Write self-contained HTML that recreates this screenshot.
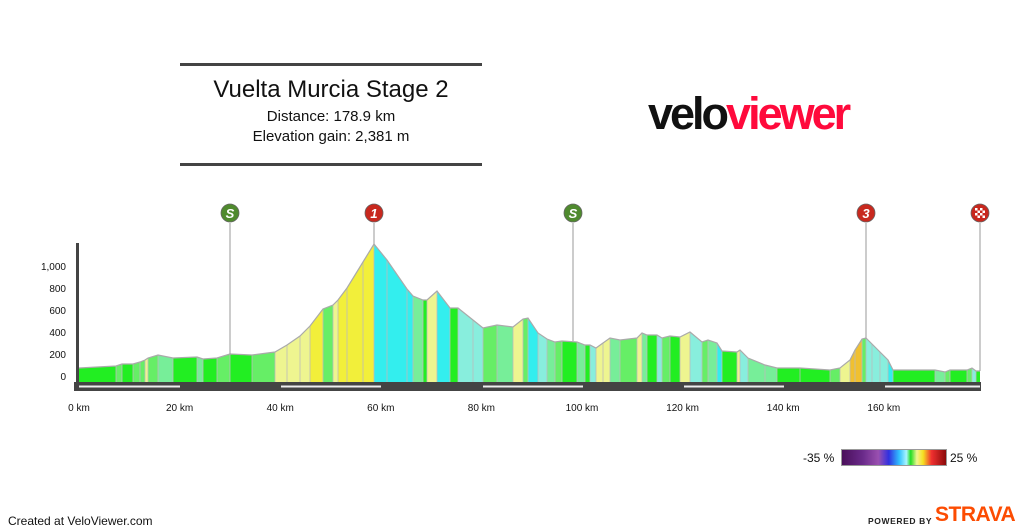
<!DOCTYPE html>
<html><head><meta charset="utf-8"><style>
body{margin:0;width:1024px;height:531px;background:#fff;font-family:"Liberation Sans",sans-serif;overflow:hidden;position:relative}
.t{position:absolute;white-space:nowrap}
</style></head><body>
<div class="t" style="left:180px;top:63px;width:302px;height:3px;background:#444"></div>
<div class="t" style="left:180px;top:163px;width:302px;height:3px;background:#444"></div>
<div class="t" style="left:180px;width:302px;top:76px;text-align:center;font-size:24px;color:#111">Vuelta Murcia Stage 2</div>
<div class="t" style="left:180px;width:302px;top:108px;text-align:center;font-size:15px;color:#111">Distance: 178.9 km</div>
<div class="t" style="left:180px;width:302px;top:128px;text-align:center;font-size:15px;color:#111">Elevation gain: 2,381 m</div>
<div class="t" style="left:648px;top:90px;font-size:45px;font-weight:bold;letter-spacing:-3px;line-height:48px"><span style="color:#111">velo</span><span style="color:#ff0a3c">viewer</span></div>
<svg id="s" width="1024" height="531" style="position:absolute;left:0;top:0"></svg>
<div class="t" style="left:803px;top:451px;font-size:12px;color:#111">-35 %</div>
<div class="t" style="left:841px;top:449px;width:104px;height:15px;border:1px solid #999;background:linear-gradient(90deg,#4a0f5a,#6a2a8a 20%,#9a50b0 35%,#3030e0 45%,#30c0ff 55%,#aaf5ff 62%,#22dd22 66%,#f0f590 72%,#f5e020 78%,#f03030 86%,#8a0a0a)"></div>
<div class="t" style="left:950px;top:451px;font-size:12px;color:#111">25 %</div>
<div class="t" style="left:8px;top:514px;font-size:12px;color:#111">Created at VeloViewer.com</div>
<div class="t" style="left:868px;top:516px;font-size:8.5px;font-weight:bold;letter-spacing:0.6px;color:#222">POWERED BY</div>
<div class="t" style="left:935px;top:503px;font-size:21px;font-weight:bold;color:#fc4c02;letter-spacing:-0.5px">STRAVA</div>
<script>
var P=[[79,368],[116,366],[122,364],[133,364],[140,362],[145,360],[148,358],[158,355],[173,358],[197,357],[203,359],[217,358],[230,354],[252,355],[275,352],[287,345],[300,336],[310,326],[323,309],[333,305],[338,300],[347,288],[363,262],[374,244],[387,260],[407,289],[413,296],[423,300],[427,300],[437,291],[450,308],[458,308],[473,320],[483,328],[497,325],[513,327],[523,319],[528,318],[538,333],[547,339],[555,342],[562,341],[577,342],[585,345],[590,345],[596,348],[603,343],[610,338],[620,340],[637,338],[642,333],[647,335],[657,335],[662,338],[670,336],[680,337],[690,332],[702,342],[708,340],[717,343],[722,351],[737,352],[740,350],[748,358],[765,365],[777,368],[800,368],[830,370],[840,368],[850,360],[855,350],[862,339],[866,338],[872,344],[880,352],[888,360],[893,370],[935,370],[945,372],[950,370],[967,370],[972,368],[976,371],[980,371]];
var B=383,h='';
function col(g,x){if(x>845&&x<866&&g>4)return'#f0c030';if(g>5)return'#f2ef3a';if(g>2)return'#eef590';if(g>0.5)return'#66ee66';if(g>-0.5)return'#22ee22';if(g>-2)return'#77ee99';if(g>-5)return'#88eedd';return'#33eeee';}
for(var i=0;i<P.length-1;i++){var a=P[i],b=P[i+1];var g=(a[1]-b[1])/(b[0]-a[0])*4.59;
h+='<polygon points="'+a[0]+','+B+' '+a[0]+','+a[1]+' '+b[0]+','+b[1]+' '+b[0]+','+B+'" fill="'+col(g,a[0])+'"/>';
if(i>0)h+='<line x1="'+a[0]+'" y1="'+a[1]+'" x2="'+a[0]+'" y2="'+B+'" stroke="#bbb" stroke-width="0.8"/>';}
h+='<polyline fill="none" stroke="#aaa" stroke-width="1.2" points="'+P.map(function(p){return p.join(',')}).join(' ')+'"/>';
h+='<rect x="76" y="243" width="3" height="140" fill="#444"/>';
h+='<rect x="74" y="382" width="907" height="9" fill="#444"/>';
[[79,180],[281,381],[483,583],[684,784],[885,980]].forEach(function(s){h+='<rect x="'+s[0]+'" y="385.5" width="'+(s[1]-s[0])+'" height="2" fill="#eee"/>';});
var yl=[['1,000',266],['800',288],['600',310],['400',332],['200',354],['0',376]];
yl.forEach(function(l){h+='<text x="66" y="'+(l[1]+4)+'" font-size="10" text-anchor="end" fill="#111" font-family="Liberation Sans">'+l[0]+'</text>';});
for(var k=0;k<=160;k+=20){h+='<text x="'+(79+k*5.03)+'" y="411" font-size="10" text-anchor="middle" fill="#111" font-family="Liberation Sans">'+k+' km</text>';}
var M=[[230,'#4f8a2e','S',354],[374,'#c8281e','1',244],[573,'#4f8a2e','S',341],[866,'#c8281e','3',338],[980,'#c8281e','',371]];
M.forEach(function(m){h+='<line x1="'+m[0]+'" y1="223" x2="'+m[0]+'" y2="'+m[3]+'" stroke="#999" stroke-width="1"/>';
h+='<circle cx="'+m[0]+'" cy="213" r="9" fill="'+m[1]+'" stroke="#666" stroke-width="0.8"/>';
if(m[2])h+='<text x="'+m[0]+'" y="218" font-size="13" font-weight="bold" font-style="italic" text-anchor="middle" fill="#fff" font-family="Liberation Sans">'+m[2]+'</text>';
else{for(var r=0;r<4;r++)for(var c=0;c<4;c++)if((r+c)%2==0)h+='<rect x="'+(m[0]-5+c*2.5)+'" y="'+(208+r*2.5)+'" width="2.5" height="2.5" fill="#fff"/>';}});
document.getElementById('s').innerHTML=h;
</script>
</body></html>
